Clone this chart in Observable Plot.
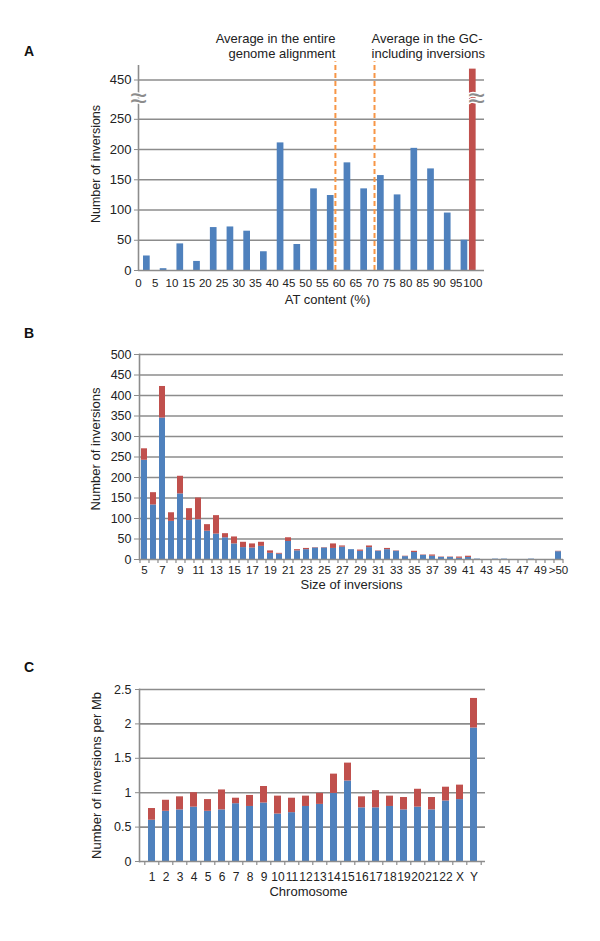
<!DOCTYPE html>
<html><head><meta charset="utf-8">
<script src="https://cdn.jsdelivr.net/npm/d3@7"></script>
<script src="https://cdn.jsdelivr.net/npm/@observablehq/plot@0.6"></script>
<style>
body{margin:0;background:#fff;font-family:"Liberation Sans",Arial,sans-serif;}
#wrap{position:relative;width:600px;height:941px;overflow:hidden;}
.panel{position:absolute;left:0;}
.plabel{position:absolute;font-weight:bold;font-size:14px;line-height:14px;color:#111;}
</style></head><body>
<div id="wrap">
  <div class="plabel" style="left:24px;top:44px">A</div>
  <div class="plabel" style="left:24px;top:326px">B</div>
  <div class="plabel" style="left:24px;top:660px">C</div>
  <div class="panel" id="pA" style="top:0px"></div>
  <div class="panel" id="pB" style="top:320px"></div>
  <div class="panel" id="pC" style="top:600px"></div>
</div>
<script>
// ---------- data ----------
// Panel A: AT content bins (label = lower bound, %); last bar = exactly 100% AT
const atLabels = [0,5,10,15,20,25,30,35,40,45,50,55,60,65,70,75,80,85,90,95,100];
const atCounts = [24,3,44,15,71,72,65,31,211,43,135,124,178,135,157,125,202,168,95,50,468];
const atKinds  = ["GC-including","GC-including","GC-including","GC-including","GC-including","GC-including","GC-including","GC-including","GC-including","GC-including","GC-including","GC-including","GC-including","GC-including","GC-including","GC-including","GC-including","GC-including","GC-including","GC-including","AT-only"];
const avgNames  = ["Average in the entire\ngenome alignment","Average in the GC-\nincluding inversions"];
const avgValues = [58.9, 70.6];
const yTicksA = [0,50,100,150,200,250,450];
const breakAt = 285, breakShift = 135;

// Panel B: size of inversions (lower / upper stacked parts)
const sizeCats = ["5","6","7","8","9","10","11","12","13","14","15","16","17","18","19","20","21","22","23","24","25","26","27","28","29","30","31","32","33","34","35","36","37","38","39","40","41","42","43","44","45","46","47","48","49","50",">50"];
const sizeLower = [242,133,345,93,160,95,97,69,62,53,38,29,28,32,15,13,44,21,24,28,28,27,30,24,20,29,20,24,20,7,17,10,8,5,5,3,5,1,0,1,1,0,0,1,0,0,19];
const sizeUpper = [28,30,77,21,43,29,53,16,45,10,17,13,10,10,6,2,9,3,3,1,1,11,3,0,3,4,1,3,1,1,3,1,3,1,1,3,3,0,0,0,0,0,0,0,0,0,1];
const yTicksB = [0,50,100,150,200,250,300,350,400,450,500];

// Panel C: inversions per Mb by chromosome (lower / upper stacked parts)
const chromCats = ["1","2","3","4","5","6","7","8","9","10","11","12","13","14","15","16","17","18","19","20","21","22","X","Y"];
const chromLower = [0.60,0.73,0.75,0.79,0.73,0.75,0.84,0.80,0.85,0.69,0.71,0.80,0.83,0.99,1.17,0.78,0.78,0.80,0.75,0.79,0.75,0.88,0.90,1.94];
const chromUpper = [0.17,0.16,0.19,0.21,0.17,0.29,0.08,0.16,0.24,0.26,0.21,0.15,0.16,0.28,0.26,0.16,0.25,0.15,0.18,0.26,0.18,0.20,0.21,0.43];
const yTicksC = [0,0.5,1,1.5,2,2.5];

// ---------- style ----------
const BLUE = "#4F81BD", RED = "#C0504D", ORANGE = "#F79646", GRID = "#8c8c8c", INK = "#222";
const FONT = "Liberation Sans, Arial, sans-serif";
const W = 600;

// ---------- Panel A ----------
const disp = v => v > breakAt ? v - breakShift : v;
const atData = atLabels.map((l, i) => ({label: l, n: atCounts[i], kind: atKinds[i],
  c: atKinds[i] === "AT-only" ? l : l + 2.5}));
const avgData = avgNames.map((t, i) => ({text: t, v: avgValues[i]}));

const A = Plot.plot({
  width: W, height: 320,
  marginLeft: 138, marginRight: 116, marginTop: 65, marginBottom: 50,
  style: {fontFamily: FONT, fontSize: "13px", color: INK, background: "transparent"},
  x: {type: "linear", domain: [0, 103.5], axis: null},
  y: {domain: [0, 339], axis: null},
  color: {domain: ["GC-including", "AT-only"], range: [BLUE, RED]},
  marks: [
    Plot.ruleY(yTicksA.slice(1), {y: disp, stroke: GRID, strokeWidth: 1.6}),
    Plot.rectY(atData, {x1: d => d.c - 1, x2: d => d.c + 1, y1: 0, y2: d => disp(d.n), fill: "kind"}),
    Plot.ruleX(avgData, {x: "v", y1: 0, y2: 345, stroke: ORANGE, strokeWidth: 2, strokeDasharray: "5,3"}),
    Plot.text(avgData.slice(0,1), {x: "v", text: "text", frameAnchor: "top", textAnchor: "end", lineAnchor: "bottom", dy: -8, fontSize: 13, fill: INK, lineHeight: 1.08}),
    Plot.text(avgData.slice(1), {x: "v", text: "text", frameAnchor: "top", textAnchor: "start", lineAnchor: "bottom", dx: -3, dy: -8, fontSize: 13, fill: INK, lineHeight: 1.08}),
    Plot.ruleX([0], {y1: 0, y2: 339, stroke: GRID, strokeWidth: 1.6}),
    Plot.ruleY([0], {stroke: GRID, strokeWidth: 1.6}),
    Plot.axisY({ticks: yTicksA.map(disp), tickFormat: d => String(d > breakAt ? d + breakShift : d), tickSize: 4, tickPadding: 3, stroke: GRID, fill: INK, fontSize: 13, label: null}),
    Plot.axisX({ticks: atLabels, tickFormat: d => String(d), tickSize: 0, tickPadding: 8, fill: INK, fontSize: 11.5, label: null}),
    Plot.text([breakAt], {y: d => d, text: () => "\u2248", frameAnchor: "left", textAnchor: "middle", fontSize: 30, fill: GRID, stroke: "white", strokeWidth: 3, paintOrder: "stroke"}),
    Plot.text([breakAt], {y: d => d, text: () => "\u2248", frameAnchor: "right", textAnchor: "middle", dx: -8, fontSize: 30, fill: GRID, stroke: "white", strokeWidth: 3, paintOrder: "stroke"}),
    Plot.text(["Number of inversions"], {text: d => d, frameAnchor: "left", textAnchor: "middle", dx: -43, dy: -4, rotate: -90, fontSize: 12.5, fill: INK}),
    Plot.text(["AT content (%)"], {text: d => d, frameAnchor: "bottom", textAnchor: "middle", dx: 16, dy: 33, fontSize: 13, fill: INK})
  ]
});
document.getElementById("pA").appendChild(A);

// ---------- Panel B ----------
const sizeLong = [
  ...sizeCats.map((c, i) => ({cat: c, part: "lower", v: sizeLower[i]})),
  ...sizeCats.map((c, i) => ({cat: c, part: "upper", v: sizeUpper[i]}))
];
const mLB = 139, mRB = 37;
const stepB = (W - mLB - mRB) / sizeCats.length;
const B = Plot.plot({
  width: W, height: 280,
  marginLeft: mLB, marginRight: mRB, marginTop: 34, marginBottom: 41,
  style: {fontFamily: FONT, fontSize: "12px", color: INK, background: "transparent"},
  x: {type: "band", domain: sizeCats, paddingInner: 0.33, paddingOuter: 0.165, axis: null},
  y: {domain: [0, 500], axis: null},
  color: {domain: ["lower", "upper"], range: [BLUE, RED]},
  marks: [
    Plot.ruleY(yTicksB.slice(1), {stroke: GRID, strokeWidth: 1.6}),
    Plot.barY(sizeLong, {x: "cat", y: "v", fill: "part"}),
    Plot.ruleY([0], {stroke: GRID, strokeWidth: 1.6}),
    Plot.ruleX(sizeCats, {x: d => d, dx: -stepB / 2, y1: 0, y2: 0, insetBottom: -4, stroke: GRID, strokeWidth: 1.2}),
    Plot.ruleX(sizeCats.slice(-1), {x: d => d, dx: stepB / 2, y1: 0, y2: 0, insetBottom: -4, stroke: GRID, strokeWidth: 1.2}),
    Plot.frame({anchor: "left", stroke: GRID, strokeWidth: 1.6}),
    Plot.axisY({ticks: yTicksB, tickSize: 5, tickPadding: 3, stroke: GRID, fill: INK, fontSize: 12.5, label: null}),
    Plot.axisX({ticks: sizeCats.filter((d, i) => i % 2 === 0), tickSize: 0, tickPadding: 6, fill: INK, fontSize: 11.5, label: null}),
    Plot.text(["Number of inversions"], {text: d => d, frameAnchor: "left", textAnchor: "middle", dx: -44, dy: -8, rotate: -90, fontSize: 13, fill: INK}),
    Plot.text(["Size of inversions"], {text: d => d, frameAnchor: "bottom", textAnchor: "middle", dy: 29, fontSize: 13, fill: INK})
  ]
});
document.getElementById("pB").appendChild(B);

// ---------- Panel C ----------
const chromLong = [
  ...chromCats.map((c, i) => ({cat: c, part: "lower", v: chromLower[i]})),
  ...chromCats.map((c, i) => ({cat: c, part: "upper", v: chromUpper[i]}))
];
const mLC = 139, mRC = 115;
const stepC = (W - mLC - mRC) / chromCats.length;
const C = Plot.plot({
  width: W, height: 300,
  marginLeft: mLC, marginRight: mRC, marginTop: 89, marginBottom: 39,
  style: {fontFamily: FONT, fontSize: "12px", color: INK, background: "transparent"},
  x: {type: "band", domain: chromCats, paddingInner: 0.5, paddingOuter: 0.25, axis: null},
  y: {domain: [0, 2.5], axis: null},
  color: {domain: ["lower", "upper"], range: [BLUE, RED]},
  marks: [
    Plot.ruleY(yTicksC.slice(1), {stroke: GRID, strokeWidth: 1.6}),
    Plot.barY(chromLong, {x: "cat", y: "v", fill: "part"}),
    Plot.ruleY([0], {stroke: GRID, strokeWidth: 1.6}),
    Plot.ruleX(chromCats, {x: d => d, dx: -stepC / 2, y1: 0, y2: 0, insetBottom: -4, stroke: GRID, strokeWidth: 1.2}),
    Plot.ruleX(chromCats.slice(-1), {x: d => d, dx: stepC / 2, y1: 0, y2: 0, insetBottom: -4, stroke: GRID, strokeWidth: 1.2}),
    Plot.frame({anchor: "left", stroke: GRID, strokeWidth: 1.6}),
    Plot.axisY({ticks: yTicksC, tickFormat: d => String(d), tickSize: 4, tickPadding: 4, stroke: GRID, fill: INK, fontSize: 12.5, label: null}),
    Plot.axisX({ticks: chromCats, tickSize: 0, tickPadding: 11, fill: INK, fontSize: 12, label: null}),
    Plot.text(["Number of inversions per Mb"], {text: d => d, frameAnchor: "left", textAnchor: "middle", dx: -43, rotate: -90, fontSize: 13, fill: INK}),
    Plot.text(["Chromosome"], {text: d => d, frameAnchor: "bottom", textAnchor: "middle", dy: 34, dx: -4, fontSize: 13, fill: INK})
  ]
});
document.getElementById("pC").appendChild(C);
</script>
</body></html>
